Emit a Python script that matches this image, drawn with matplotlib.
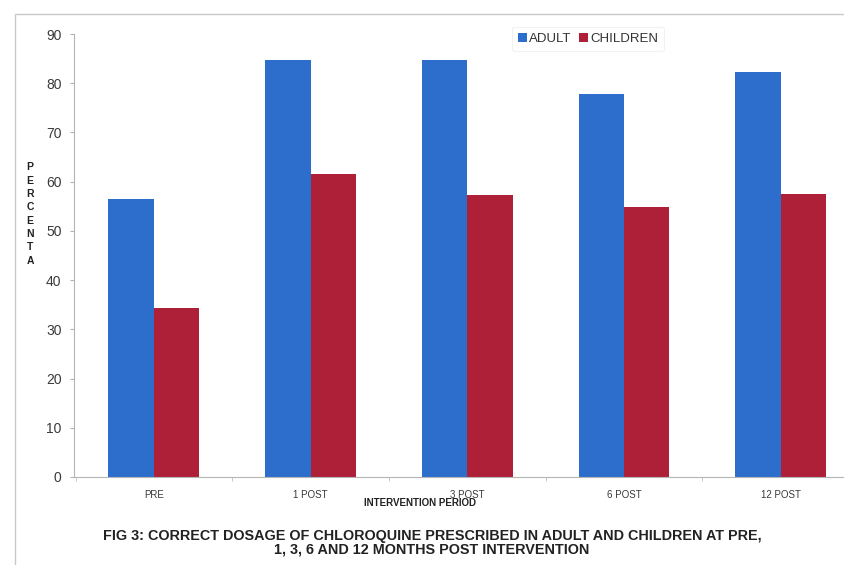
import matplotlib
matplotlib.use("Agg")
import matplotlib.pyplot as plt
import numpy as np
from matplotlib.patches import Rectangle

categories = ["PRE", "1 POST", "3 POST", "6 POST", "12 POST"]
adult = [56.4, 84.8, 84.8, 77.9, 82.2]
children = [34.3, 61.6, 57.2, 54.8, 57.4]
series_names = ["ADULT", "CHILDREN"]
yticks = [0, 10, 20, 30, 40, 50, 60, 70, 80, 90]

plt.rcParams['font.family'] = ['Liberation Sans', 'DejaVu Sans']

fig = plt.figure(figsize=(8.45, 5.65), dpi=100)
fig.patch.set_facecolor("white")

# chart border
fig.patches.append(Rectangle((15/845, -0.1), 1.2, 1 - 14/565 + 0.1, transform=fig.transFigure,
                             fill=False, edgecolor="#c8c8c8", linewidth=1.0))

ax = fig.add_axes([74/845, 1 - 477/565, 1 - 74/845, (477 - 34)/565])
x = np.arange(len(categories))
w = 0.29
blue = "#2d6ecc"
red = "#ae1f38"
ax.bar(x - w/2, adult, width=w, color=blue, label=series_names[0])
ax.bar(x + w/2, children, width=w, color=red, label=series_names[1])

ax.set_xlim(-0.51, 4.41)
ax.set_ylim(0, 90)
ax.set_yticks(yticks)
ax.set_yticklabels([str(t) for t in yticks], fontsize=10, color="#3a3a3a")
ax.set_xticks(x)
ax.set_xticklabels(categories, fontsize=7, color="#3a3a3a")
ax.tick_params(axis='x', length=0, pad=9)
ax.tick_params(axis='y', length=3, color="#b0b0b0", pad=6)
ax.set_xticks(np.arange(-0.5, 4.5, 1), minor=True)
ax.tick_params(axis='x', which='minor', length=3, color="#c0c0c0")
for s in ["top", "right"]:
    ax.spines[s].set_visible(False)
for s in ["left", "bottom"]:
    ax.spines[s].set_color("#b5b5b5")
    ax.spines[s].set_linewidth(0.8)

leg = ax.legend(loc="upper left", ncol=2, frameon=True, fontsize=9.5, handlelength=0.7,
                handleheight=0.7, handletextpad=0.15, columnspacing=0.6, borderpad=0.45)
leg.set_bbox_to_anchor((505/845, 1 - 20/565), transform=fig.transFigure)
leg.get_frame().set_edgecolor("#eeeeee")
leg.get_frame().set_linewidth(0.8)
for t in leg.get_texts():
    t.set_color("#333333")

fig.text(30/845, 1 - 214/565, "\n".join("PERCENTA"), fontsize=7.5, fontweight="bold",
         ha="center", va="center", linespacing=1.42, color="#222222")
fig.text(420/845, 1 - 503/565, "INTERVENTION PERIOD", fontsize=7, fontweight="bold",
         ha="center", va="center", color="#222222")
fig.text(432/845, 1 - 536/565, "FIG 3: CORRECT DOSAGE OF CHLOROQUINE PRESCRIBED IN ADULT AND CHILDREN AT PRE,",
         fontsize=10.4, fontweight="bold", ha="center", va="center", color="#222222")
fig.text(432/845, 1 - 550/565, "1, 3, 6 AND 12 MONTHS POST INTERVENTION",
         fontsize=10.4, fontweight="bold", ha="center", va="center", color="#222222")

fig.savefig("out.png", dpi=100)
